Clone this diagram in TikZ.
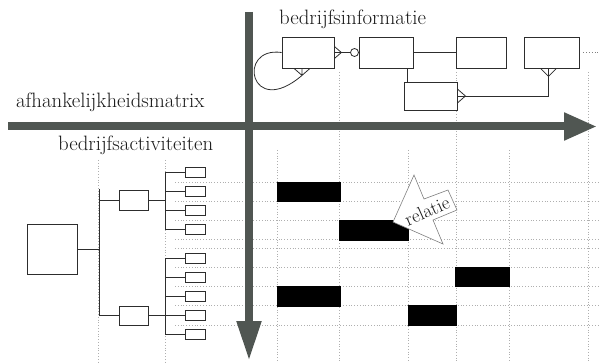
\documentclass[tikz,border=0pt]{standalone}
\usepackage{xcolor}
\usetikzlibrary{arrows.meta}

\definecolor{axisgray}{RGB}{80,86,82}
\definecolor{gridgray}{RGB}{175,175,175}
\definecolor{linegray}{RGB}{45,45,45}

\begin{document}
\begin{tikzpicture}[x=1pt, y=-1pt,
  title/.style={inner sep=0pt, font=\rmfamily\fontsize{20.8}{24}\selectfont, text=black!90},
  entity/.style={draw=linegray, fill=white, line width=0.8pt, inner sep=0pt},
  leaf/.style={draw=linegray, fill=white, line width=0.8pt, inner sep=0pt, minimum width=20pt, minimum height=10pt},
  erline/.style={linegray, line width=0.8pt},
  gridline/.style={gridgray, dotted, line width=0.8pt},
  blackbar/.style={fill=black},
  relarrow/.style={draw=gray, fill=white, line width=0.6pt, line join=miter},
  bigarrow/.style={axisgray, line width=8pt}]

\useasboundingbox (0,0) rectangle (602,363);

\foreach \x in {98,165} \draw[gridline] (\x,160) -- (\x,363);
\foreach \x in {339,456,588} \draw[gridline] (\x,72) -- (\x,363);
\foreach \x in {277,408,509} \draw[gridline] (\x,150) -- (\x,363);
\foreach \y in {182,201,220,239,248,267,286,305,325} \draw[gridline] (175,\y) -- (600,\y);

\coordinate (hstart) at (8,126.5);
\coordinate (hend) at (597,126.5);
\coordinate (vstart) at (249,12);
\coordinate (vend) at (249,361);
\draw[bigarrow, -{Triangle[length=33pt,width=26pt]}] (hstart) -- (hend);
\draw[bigarrow, -{Triangle[length=40pt,width=23pt]}] (vstart) -- (vend);

\node[title, anchor=base west] (matrix) at (16,108) {afhankelijkheidsmatrix};
\node[title, anchor=base west] (info) at (279,25) {bedrijfsinformatie};
\node[title, anchor=base west] (acts) at (58,151) {bedrijfsactiviteiten};

\node[entity, minimum width=52pt, minimum height=31pt] (A) at (308,52.5) {};
\node[entity, minimum width=54pt, minimum height=31pt] (B) at (386,52.5) {};
\node[entity, minimum width=50pt, minimum height=31pt] (C) at (481,52.5) {};
\node[entity, minimum width=55pt, minimum height=31pt] (D) at (551.5,52.5) {};
\node[entity, minimum width=53pt, minimum height=28pt] (E) at (430.5,96) {};
\node[entity, circle, minimum size=8pt] (o) at (354.5,52.5) {};
\coordinate (more) at (600,52.5);

\draw[erline] (A.east) -- (o.west);
\draw[erline] (A.east) ++(0,-6) -- ++(7,6) -- ++(-7,6);
\draw[erline] (B.east) -- (C.west);
\draw[erline] ([xshift=4pt]E.north west) -- ([xshift=4pt]E.north west |- B.south);
\draw[erline] (E.east) -| ([xshift=-3pt]D.south);
\draw[erline] (E.east) ++(0,-7) -- ++(8,7) -- ++(-8,7);
\draw[erline] ([xshift=-3pt]D.south) ++(-8,0) -- ++(8,8) -- ++(8,-8);
\coordinate (loopend) at ([xshift=-6pt,yshift=-7pt]A.south);
\draw[erline] (A.west) .. controls (236,46) and (250,120) .. (loopend);
\draw[erline] (loopend) -- ++(-8,-7) (loopend) -- ++(0,-7) (loopend) -- ++(8,-7);
\draw[gridline, gray] ([xshift=4pt]D.east) -- (more);

\node[entity, minimum width=50pt, minimum height=50pt] (root) at (52,249) {};
\node[entity, minimum width=29pt, minimum height=20pt] (m1) at (133.5,200) {};
\node[entity, minimum width=29pt, minimum height=19pt] (m2) at (133.5,315.5) {};
\foreach \i/\y in {1/172,2/191,3/210,4/229} \node[leaf] (u\i) at (195,\y) {};
\foreach \i/\y in {1/258,2/277,3/296,4/315,5/334} \node[leaf] (l\i) at (195,\y) {};

\coordinate (bustop) at (99,189);
\coordinate (busbot) at (99,316);
\draw[erline] (bustop) -- (busbot);
\draw[erline] (root.east) -- (root.east -| bustop);
\draw[erline] (m1.west) -- (m1.west -| bustop);
\draw[erline] (m2.west) -- (m2.west -| bustop);
\draw[erline] (u1.west) -- ++(-19,0) |- (u4.west);
\foreach \i in {2,3} \draw[erline] (u\i.west) -- ++(-19,0);
\draw[erline] (m1.east) -- ++(18,0);
\draw[erline] (l1.west) -- ++(-19,0) |- (l5.west);
\foreach \i in {2,3,4} \draw[erline] (l\i.west) -- ++(-19,0);
\draw[erline] (m2.east) -- ++(18,0);

\fill[blackbar] (277,182) rectangle (341,202);
\fill[blackbar] (339,220) rectangle (409,241);
\fill[blackbar] (277,286) rectangle (341,307);
\fill[blackbar] (408,305) rectangle (457,326);
\fill[blackbar] (455,267) rectangle (510,287);

\draw[relarrow] (393,222) -- (414,175) -- (424,199) -- (448,190) -- (457,210) -- (433,220) -- (443,244) -- cycle;
\node[title, rotate=24, font=\rmfamily\fontsize{19}{22}\selectfont] (rel) at (427,211) {relatie};
\end{tikzpicture}
\end{document}
